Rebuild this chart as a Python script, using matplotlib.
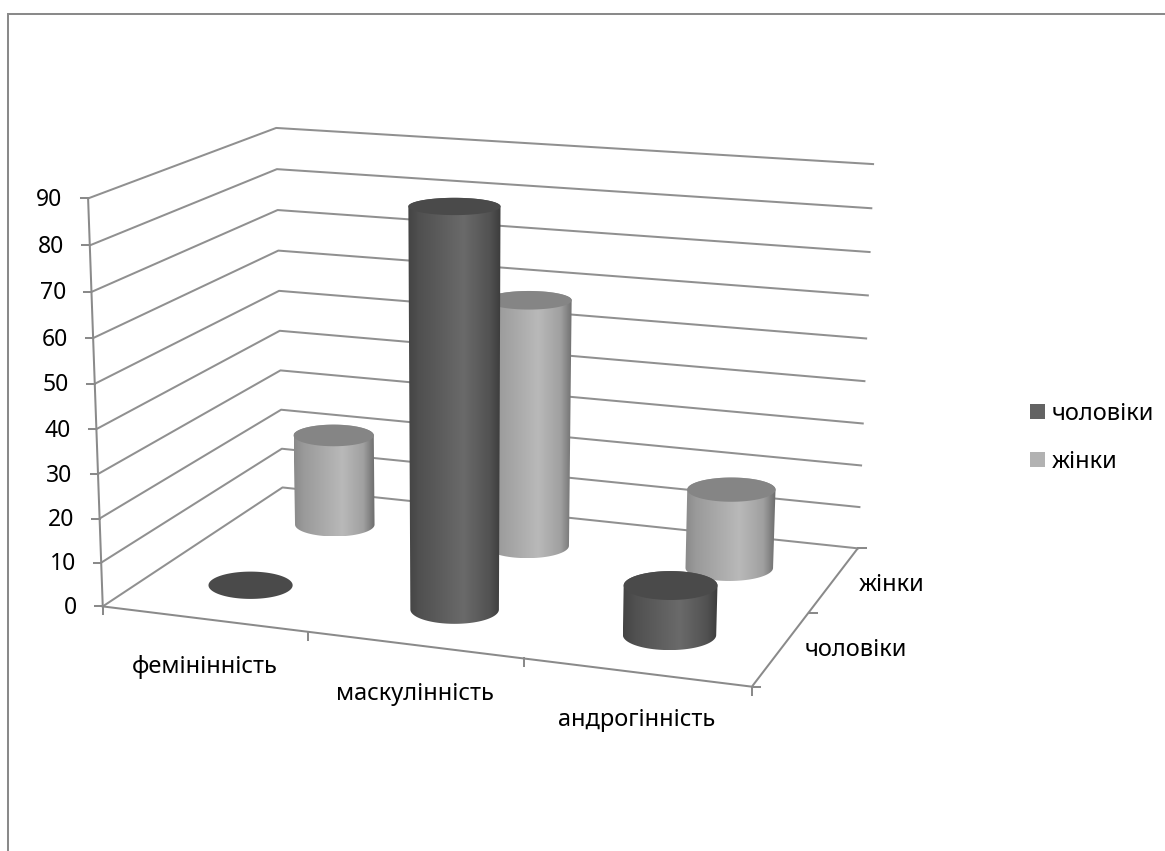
import numpy as np
import matplotlib
matplotlib.use("Agg")
import matplotlib.pyplot as plt
from matplotlib.colors import LinearSegmentedColormap
from matplotlib.patches import Polygon

# ---- data ----
categories = ["фемінінність", "маскулінність", "андрогінність"]
series_names = ["чоловіки", "жінки"]
men = [0, 88.7, 11]
women = [22, 58.4, 18.5]
value_ticks = list(range(0, 100, 10))

# ---- styling ----
FONT = "Noto Sans"
TEXT_SIZE = 17
TICK_SIZE = 16.5
LINE_W = 1.45
AXIS_COLOR = "#8a8a8a"
GRID_COLOR = "#909090"
TOP_COLORS = {"чоловіки": "#4a4a4a", "жінки": "#858585"}
SWATCH_COLORS = {"чоловіки": "#636363", "жінки": "#b2b2b2"}
SIDE_STOPS = {
    "чоловіки": [(0, "#444444"), (0.12, "#505050"), (0.6, "#6a6a6a"), (0.88, "#525252"), (1, "#3c3c3c")],
    "жінки": [(0, "#8a8a8a"), (0.12, "#9a9a9a"), (0.6, "#b9b9b9"), (0.86, "#a0a0a0"), (1, "#6c6c6c")],
}
RADIUS_U = 0.0705
RADIUS_D = 0.105
V_MAX = 90.0

# Camera calibration: box coordinates (along categories, depth, value) and screen position.
calibration = [
    (0, 0, 0, 103.5, 606), (0, 0, 90, 88, 198),
    (0, 1, 0, 282.5, 487), (0, 1, 10, 281.7, 449), (0, 1, 20, 280.7, 410), (0, 1, 90, 276.5, 128),
    (1, 1, 0, 858.5, 548), (1, 1, 90, 873, 164), (1, 1, 50, 866, 339),
    (1, 0, 0, 752, 686), (1/3, 0, 0, 307, 632), (2/3, 0, 0, 524, 660), (1, 0.5, 0, 808, 612),
]


def fit_camera(rows):
    eqs = []
    for u, d, v, x, y in rows:
        X = [u, d, v / V_MAX, 1.0]
        eqs.append(X + [0, 0, 0, 0] + [-x / 1000 * c for c in X])
        eqs.append([0, 0, 0, 0] + X + [-y / 1000 * c for c in X])
    _, _, vt = np.linalg.svd(np.array(eqs))
    return vt[-1].reshape(3, 4)


CAM = fit_camera(calibration)


def project(u, d, v):
    u, d, v = np.broadcast_arrays(np.asarray(u, float), np.asarray(d, float), np.asarray(v, float))
    X = np.stack([u, d, v / V_MAX, np.ones_like(u)])
    p = CAM @ X
    return 1000 * p[0] / p[2], 1000 * p[1] / p[2]


def hull(points):
    pts = sorted(set(map(tuple, points)))
    def half(seq):
        out = []
        for p in seq:
            while len(out) > 1 and (out[-1][0]-out[-2][0])*(p[1]-out[-2][1]) - (out[-1][1]-out[-2][1])*(p[0]-out[-2][0]) <= 0:
                out.pop()
            out.append(p)
        return out[:-1]
    return np.array(half(pts) + half(pts[::-1]))


fig = plt.figure(figsize=(11.65, 8.51), dpi=100)
ax = fig.add_axes([0, 0, 1, 1])
ax.set_xlim(0, 1165)
ax.set_ylim(851, 0)
ax.axis("off")

# Outer chart frame: only the top and left edges fall inside the canvas.
ax.plot([8, 8, 1165], [851, 14, 14], color=AXIS_COLOR, lw=LINE_W, solid_joinstyle="miter")

# Wall gridlines, running front-left -> back-left -> back-right.
for v in value_ticks:
    xs, ys = project([0, 0, 1], [0, 1, 1], [v, v, v])
    ax.plot(xs, ys, color=GRID_COLOR, lw=LINE_W)
    # value tick and label
    ax.plot([xs[0] - 7.5, xs[0]], [ys[0], ys[0]], color=AXIS_COLOR, lw=LINE_W)
    ax.text(xs[0] - 25.5, ys[0] + 1.5, str(v), ha="right", va="center",
            family=FONT, fontsize=TICK_SIZE, color="black")

# Value axis and the two floor edges.
xs, ys = project([0, 0], [0, 0], [0, V_MAX])
ax.plot(xs, ys, color=AXIS_COLOR, lw=LINE_W)
xs, ys = project([0, 1, 1], [0, 0, 1], [0, 0, 0])
ax.plot(xs, ys, color=AXIS_COLOR, lw=LINE_W)

# Category ticks and labels.
n_cat = len(categories)
for i in range(n_cat + 1):
    x, y = project(i / n_cat, 0, 0)
    ax.plot([x, x], [y, y + 8], color=AXIS_COLOR, lw=LINE_W)
cat_label_pos = [(205, 667), (415, 694), (637, 720)]
for name, (lx, ly) in zip(categories, cat_label_pos):
    ax.text(lx, ly, name, ha="center", va="center", family=FONT, fontsize=TEXT_SIZE)

# Series ticks and labels along the depth edge.
n_ser = len(series_names)
for i in range(n_ser + 1):
    x, y = project(1, i / n_ser, 0)
    ax.plot([x, x + 8.5], [y, y], color=AXIS_COLOR, lw=LINE_W)
ser_label_pos = [(856, 650), (892, 585)]
for name, (lx, ly) in zip(series_names, ser_label_pos):
    ax.text(lx, ly, name, ha="center", va="center", family=FONT, fontsize=TEXT_SIZE)

theta = np.linspace(0, 2 * np.pi, 181)


def disc(u0, d0, v):
    """Screen-aligned ellipse for a cylinder cross-section at height v."""
    cx, cy = project(u0, d0, v)
    xa, _ = project([u0 - RADIUS_U, u0 + RADIUS_U], [d0, d0], [v, v])
    _, yb = project([u0, u0], [d0 - RADIUS_D, d0 + RADIUS_D], [v, v])
    a = abs(xa[1] - xa[0]) / 2
    b = abs(yb[1] - yb[0]) / 2
    return cx + a * np.cos(theta), cy + b * np.sin(theta)


def cylinder(cat_idx, ser_idx, value, name):
    u0 = (cat_idx + 0.5) / n_cat
    d0 = (ser_idx + 0.5) / n_ser
    bx, by = disc(u0, d0, 0)
    tx, ty = disc(u0, d0, value)
    if value > 0:
        outline = hull(np.r_[np.c_[bx, by], np.c_[tx, ty]])
        cmap = LinearSegmentedColormap.from_list(name, SIDE_STOPS[name])
        x0, x1 = outline[:, 0].min(), outline[:, 0].max()
        y0, y1 = outline[:, 1].min(), outline[:, 1].max()
        im = ax.imshow(np.linspace(0, 1, 256)[None, :], cmap=cmap, extent=[x0, x1, y1, y0],
                       aspect="auto", interpolation="bilinear", zorder=3)
        im.set_clip_path(Polygon(outline, closed=True, transform=ax.transData))
    ax.fill(tx, ty, color=TOP_COLORS[name], lw=0, zorder=3)


# Rear row first so the nearer cylinders overlap it.
for i, v in enumerate(women):
    cylinder(i, 1, v, series_names[1])
for i, v in enumerate(men):
    cylinder(i, 0, v, series_names[0])

ax.set_xlim(0, 1165)
ax.set_ylim(851, 0)

# Legend.
legend_y = [411.5, 459.5]
for name, ly in zip(series_names, legend_y):
    ax.fill_between([1030, 1045], ly - 7.5, ly + 7.5, color=SWATCH_COLORS[name], lw=0)
    ax.text(1052, ly + 2.5, name, ha="left", va="center", family=FONT, fontsize=TEXT_SIZE)

fig.savefig("out.png", dpi=100, facecolor="white")
